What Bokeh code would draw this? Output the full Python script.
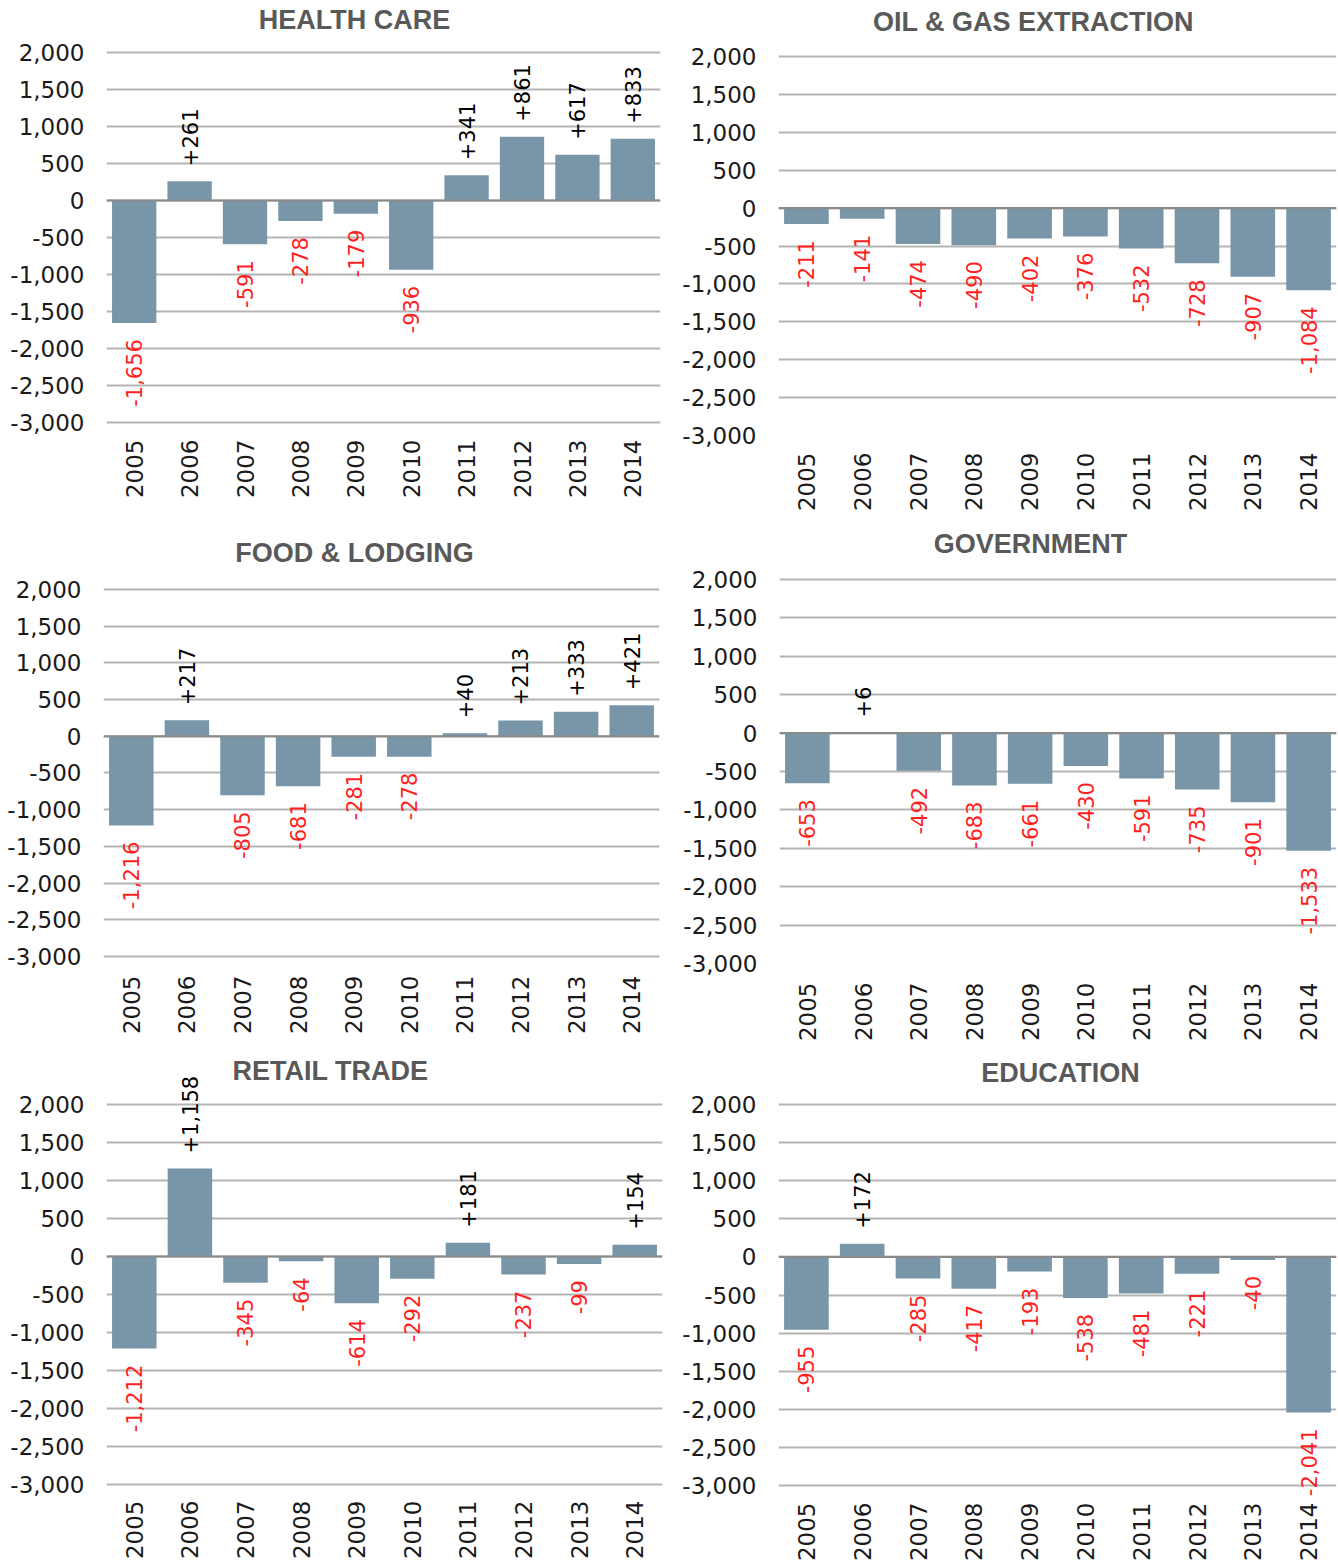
import math
from bokeh.plotting import figure
from bokeh.models import (ColumnDataSource, LabelSet, Label, FactorRange, Range1d,
                          FixedTicker, NumeralTickFormatter, Span)
from bokeh.core.properties import value
from bokeh.layouts import column, row
from bokeh.embed import file_html
from bokeh.resources import INLINE

# ---------------- data ----------------
years = ["2005", "2006", "2007", "2008", "2009", "2010", "2011", "2012", "2013", "2014"]
health_care = [-1656, 261, -591, -278, -179, -936, 341, 861, 617, 833]
oil_gas = [-211, -141, -474, -490, -402, -376, -532, -728, -907, -1084]
food_lodging = [-1216, 217, -805, -681, -281, -278, 40, 213, 333, 421]
government = [-653, 6, -492, -683, -661, -430, -591, -735, -901, -1533]
retail_trade = [-1212, 1158, -345, -64, -614, -292, 181, -237, -99, 154]
education = [-955, 172, -285, -417, -193, -538, -481, -221, -40, -2041]
y_ticks = [-3000, -2500, -2000, -1500, -1000, -500, 0, 500, 1000, 1500, 2000]
titles = ["HEALTH CARE", "OIL & GAS EXTRACTION", "FOOD & LODGING",
          "GOVERNMENT", "RETAIL TRADE", "EDUCATION"]

BAR = "#7896a8"
GRID = "#b4b4b4"
ZERO = "#8a8a8a"
RED = "#ff1f1f"
FONT = "DejaVu Sans"
TITLE_FONT = "Liberation Sans"


def panel(title, values, W, H, left, right, top, bottom, y_start, y_end,
          standoff, title_dx, title_dy):
    p = figure(x_range=FactorRange(*years), y_range=Range1d(y_start, y_end),
               width=W, height=H, output_backend="svg", toolbar_location=None,
               min_border_left=left, min_border_right=right,
               min_border_top=top, min_border_bottom=bottom)
    p.outline_line_color = None
    p.background_fill_color = "white"
    p.border_fill_color = "white"
    p.xgrid.grid_line_color = None
    p.ygrid.grid_line_color = GRID
    p.ygrid.grid_line_width = 2
    p.yaxis.ticker = FixedTicker(ticks=y_ticks)
    p.yaxis.formatter = NumeralTickFormatter(format="0,0")
    for ax in (p.xaxis, p.yaxis):
        ax.axis_line_color = None
        ax.major_tick_line_color = None
        ax.minor_tick_line_color = None
        ax.major_tick_out = 0
        ax.major_tick_in = 0
        ax.major_label_text_font = FONT
        ax.major_label_text_font_size = "23px"
        ax.major_label_text_color = "#1a1a1a"
    p.yaxis.major_label_standoff = 22
    p.xaxis.major_label_standoff = standoff
    p.xaxis.major_label_orientation = math.pi / 2

    src = ColumnDataSource(dict(x=years, top=values))
    p.vbar(x="x", top="top", width=0.8, source=src, color=BAR, line_color=None)
    p.add_layout(Span(location=0, dimension="width", line_color=ZERO, line_width=2))

    pos_x = [y for y, v in zip(years, values) if v > 0]
    pos_v = [v for v in values if v > 0]
    neg_x = [y for y, v in zip(years, values) if v < 0]
    neg_v = [v for v in values if v < 0]
    pos = ColumnDataSource(dict(x=pos_x, y=pos_v, t=[f"{v:+,}" for v in pos_v]))
    neg = ColumnDataSource(dict(x=neg_x, y=neg_v, t=[f"{v:,}" for v in neg_v]))
    p.add_layout(LabelSet(x="x", y="y", text="t", source=pos, angle=math.pi / 2,
                          text_align="left", text_baseline="middle", y_offset=15,
                          text_font=value(FONT), text_font_size=value("21px"),
                          text_color="black"))
    p.add_layout(LabelSet(x="x", y="y", text="t", source=neg, angle=math.pi / 2,
                          text_align="right", text_baseline="middle", y_offset=-16,
                          text_font=value(FONT), text_font_size=value("21px"),
                          text_color=RED))

    p.add_layout(Label(x=title_dx, y=title_dy, x_units="screen", y_units="screen",
                       text=title, text_align="center", text_baseline="middle",
                       text_font=TITLE_FONT, text_font_style="bold",
                       text_font_size="27px", text_color="#595959"))
    return p


# page geometry of each panel (pixels): figure box, frame left/right, shared frame
# bottom of the row, gridline 2000 / -3000 positions, year-label top, title centre
def geom(fx0, fy0, W, H, fl, fr, fb, g_top, g_bot, lab_top, tcx, tcy):
    k = (g_bot - g_top) / (y_ticks[-1] - y_ticks[0])
    return dict(W=W, H=H, left=fl - fx0, right=fx0 + W - fr, top=0,
                bottom=fy0 + H - fb,
                y_end=y_ticks[-1] + (g_top - fy0) / k,
                y_start=y_ticks[0] - (fb - g_bot) / k,
                standoff=lab_top - fb,
                title_dx=tcx - fl, title_dy=fb - tcy)


g_hc = geom(1, 1, 672, 524, 107, 661, 436, 53, 423, 440, 355, 20)
g_oil = geom(673, 1, 665, 524, 779, 1337, 436, 57, 436, 453, 1034, 22)
g_food = geom(1, 525, 672, 520, 104, 660, 965, 590, 958, 977, 355, 554)
g_gov = geom(673, 525, 665, 520, 780, 1337, 965, 580, 965, 984, 1031, 545)
g_ret = geom(1, 1045, 672, 520, 107, 663, 1500, 1105, 1485, 1501, 331, 1071)
g_edu = geom(673, 1045, 665, 520, 779, 1337, 1500, 1105, 1486, 1503, 1061, 1073)

p1 = panel(titles[0], health_care, **g_hc)
p2 = panel(titles[1], oil_gas, **g_oil)
p3 = panel(titles[2], food_lodging, **g_food)
p4 = panel(titles[3], government, **g_gov)
p5 = panel(titles[4], retail_trade, **g_ret)
p6 = panel(titles[5], education, **g_edu)

layout = column(row(p1, p2), row(p3, p4), row(p5, p6))

open("out.html", "w").write(file_html(layout, INLINE))
